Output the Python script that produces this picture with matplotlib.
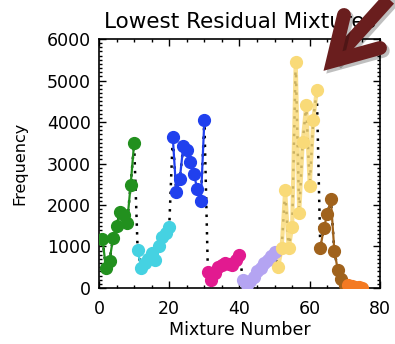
import matplotlib
matplotlib.use("Agg")
import matplotlib.pyplot as plt
from matplotlib.ticker import MultipleLocator
from matplotlib.lines import Line2D
import matplotlib.patheffects as pe

# ---- data ----
green_x = [1, 2, 3, 4, 5, 6, 7, 8, 9, 10]
green_y = [1170, 470, 660, 1200, 1490, 1840, 1760, 1560, 2470, 3490]
cyan_x = [11, 12, 13, 14, 15, 16, 17, 18, 19, 20]
cyan_y = [920, 480, 600, 700, 840, 680, 1000, 1230, 1320, 1480]
blue_x = [21, 22, 23, 24, 25, 26, 27, 28, 29, 30]
blue_y = [3650, 2310, 2620, 3420, 3330, 3040, 2750, 2380, 2100, 4050]
magenta_x = [31, 32, 33, 34, 35, 36, 37, 38, 39, 40]
magenta_y = [390, 190, 360, 510, 560, 600, 570, 560, 680, 800]
lavender_x = [41, 42, 43, 44, 45, 46, 47, 48, 49, 50]
lavender_y = [190, 70, 180, 270, 400, 480, 600, 680, 760, 870]
yellow_x = [51, 52, 53, 54, 55, 56, 57, 58, 59, 60, 61, 62]
yellow_y = [510, 960, 2350, 960, 1480, 5450, 1800, 3530, 4410, 2460, 4050, 4770]
brown_x = [63, 64, 65, 66, 67, 68, 69, 70]
brown_y = [960, 1440, 1780, 2140, 900, 430, 210, 70]
orange_x = [71, 72, 73, 74, 75]
orange_y = [70, 50, 20, 30, 10]

groups = [
    (green_x, green_y, "#22901e", 1.6, 1.0),
    (cyan_x, cyan_y, "#45d2e2", 1.6, 1.0),
    (blue_x, blue_y, "#2040ee", 1.6, 1.0),
    (magenta_x, magenta_y, "#e21a90", 1.6, 1.0),
    (lavender_x, lavender_y, "#b4a4f2", 1.6, 1.0),
    (yellow_x, yellow_y, "#f9da78", 3.0, 0.82),
    (brown_x, brown_y, "#a0621c", 1.6, 1.0),
    (orange_x, orange_y, "#f47a22", 1.6, 1.0),
]

title = "Lowest Residual Mixtures"
xlabel = "Mixture Number"
ylabel = "Frequency"

fig = plt.figure(figsize=(3.95, 3.44), dpi=100)
ax = fig.add_axes([0.2506, 0.1628, 0.962 - 0.2506, 0.8866 - 0.1628])

all_x = []
all_y = []
for gx, gy, c, lw, a in groups:
    all_x += gx
    all_y += gy
ax.plot(all_x, all_y, color="black", linestyle=(0, (1, 2.5)), lw=1.8, zorder=1)

for gx, gy, c, lw, a in groups:
    ax.plot(gx, gy, color=c, lw=lw, alpha=a, zorder=2)
    ax.plot(gx, gy, linestyle="none", marker="o", ms=8.5, color=c,
            markeredgecolor=c, zorder=3)

ax.set_xlim(0, 80)
ax.set_ylim(0, 6000)
ax.xaxis.set_major_locator(MultipleLocator(20))
ax.xaxis.set_minor_locator(MultipleLocator(5))
ax.yaxis.set_major_locator(MultipleLocator(1000))
ax.yaxis.set_minor_locator(MultipleLocator(100))
ax.tick_params(which="both", direction="in", top=True, right=True, width=1)
ax.tick_params(which="major", length=5)
ax.tick_params(which="minor", length=2.5)
ax.tick_params(axis="x", labelsize=12.5, pad=9)
ax.tick_params(axis="y", labelsize=12.5, pad=6)
for s in ax.spines.values():
    s.set_linewidth(1.2)

ax.set_xlabel(xlabel, fontsize=12.5, labelpad=2)
ax.set_ylabel(ylabel, fontsize=11.5, labelpad=14)
ax.set_title(title, fontsize=15.5, pad=8)

# annotation arrow (drawn in figure pixel space, origin top-left of image)
W, H = 395.0, 344.0
def fp(x, y):
    return x / W, 1 - y / H

tip = fp(333, 61)
tail = fp(415, -30)
arm1 = fp(344, 15)
arm2 = fp(380, 48)
arrow_color = "#6a1e1e"
shadow = [pe.SimpleLineShadow(offset=(2, -2), alpha=0.25), pe.Normal()]
shaft = Line2D([tip[0], tail[0]], [tip[1], tail[1]], transform=fig.transFigure,
               color=arrow_color, lw=10, solid_capstyle="butt", path_effects=shadow,
               zorder=10)
head = Line2D([arm1[0], tip[0], arm2[0]], [arm1[1], tip[1], arm2[1]],
              transform=fig.transFigure, color=arrow_color, lw=10,
              solid_joinstyle="miter", solid_capstyle="round", path_effects=shadow,
              zorder=10)
fig.add_artist(shaft)
fig.add_artist(head)

fig.savefig("out.png", dpi=100)
